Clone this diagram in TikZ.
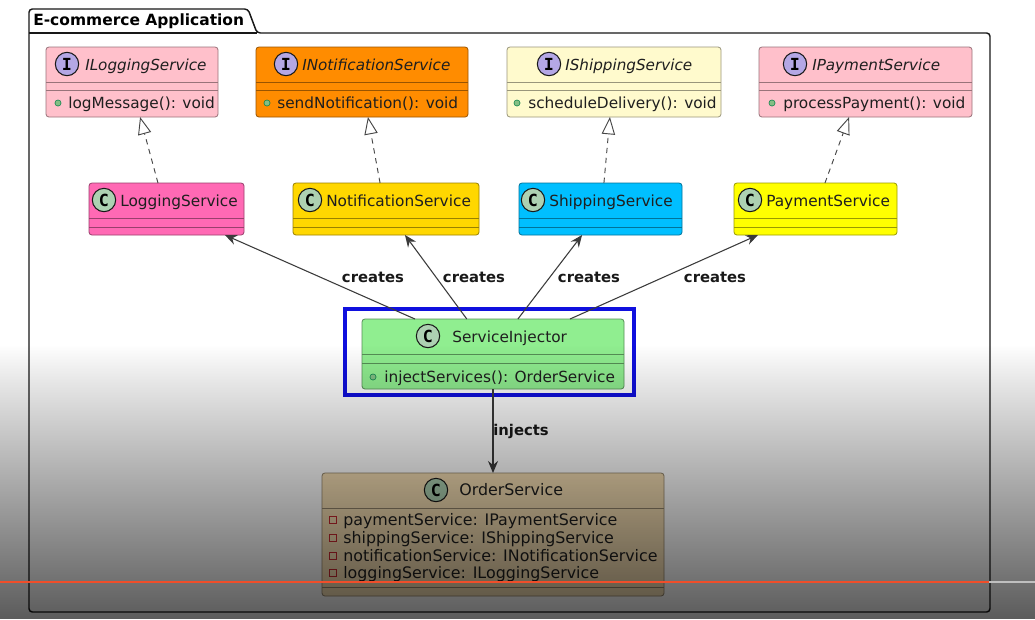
\documentclass[tikz,border=0pt]{standalone}
\usepackage{fontspec}
\setmainfont{DejaVu Sans}
\newfontfamily\iconfont{DejaVu Sans Mono}
\usetikzlibrary{arrows.meta,calc,fit}

\definecolor{inkc}{HTML}{181818}
\definecolor{ifacefill}{HTML}{B4A7E5}
\definecolor{classfill}{HTML}{ADD1B2}
\definecolor{pubfill}{HTML}{84BE84}
\definecolor{publine}{HTML}{038048}
\definecolor{privline}{HTML}{C82930}
\definecolor{cPink}{HTML}{FFC0CB}
\definecolor{cOrange}{HTML}{FF8C00}
\definecolor{cLemon}{HTML}{FFFACD}
\definecolor{cHotPink}{HTML}{FF69B4}
\definecolor{cGold}{HTML}{FFD700}
\definecolor{cSky}{HTML}{00BFFF}
\definecolor{cYellow}{HTML}{FFFF00}
\definecolor{cGreen}{HTML}{90EE90}
\definecolor{cWheat}{HTML}{F5DEB3}
\definecolor{hiblue}{RGB}{16,16,222}
\definecolor{barred}{HTML}{F04E2A}

% one UML box: name, corners, fill, two compartment lines
\newcommand\umlbox[8]{%
  \node[fit={(#2,#3) (#4,#5)}, inner sep=0pt, outer sep=0pt, rounded corners=2.2pt,
        draw=#6!60!black, fill=#6, line width=0.6pt] (#1) {};
  \draw[draw=#6!60!black, line width=0.6pt] (#2,#7) -- (#4,#7) (#2,#8) -- (#4,#8);
}

\begin{document}
\begin{tikzpicture}[x=0.75pt,y=-0.75pt,
  txt/.style={inner sep=0pt, anchor=base west, text=black!88,
              font=\fontsize{11.5}{13.5}\selectfont},
  ftxt/.style={txt, font=\fontsize{11.9}{13.5}\selectfont},
  ifname/.style={txt, font=\fontsize{11.4}{13.5}\selectfont\itshape},
  ico/.style={circle, draw=inkc, line width=0.8pt, minimum size=17.5pt, inner sep=0pt,
              text=black, font=\iconfont\bfseries\fontsize{12.5}{12.5}\selectfont},
  pub/.style={circle, fill=pubfill, draw=publine, line width=0.4pt, minimum size=4.6pt, inner sep=0pt},
  priv/.style={rectangle, draw=privline, line width=0.6pt, minimum size=5.2pt, inner sep=0pt},
  lbl/.style={inner sep=1pt, anchor=base, text=black!90,
              font=\fontsize{11.1}{13}\selectfont\bfseries},
  realize/.style={draw=inkc!80, line width=0.7pt, dash pattern=on 4pt off 3.5pt,
                  -{Triangle[length=13pt, width=10pt, fill=white, line width=0.7pt]}},
  creates/.style={draw=inkc!85, line width=0.8pt,
                  -{Stealth[length=9pt, width=7.5pt, inset=3pt]}},
  frameline/.style={draw=inkc, line width=1.1pt}
]
\useasboundingbox (0,0) rectangle (1035,619);
\fill[white] (0,0) rectangle (1035,619);

% package frame with its tab
\draw[frameline, rounded corners=2.5pt] (29,612) -- (29,9) -- (248,9) -- (257,33) -- (990,33) -- (990,612) -- cycle;
\draw[frameline] (29,33) -- (257,33);
\node[inner sep=0pt, anchor=base west, font=\fontsize{11.6}{13}\selectfont\bfseries] (pkg) at (33,25) {E-commerce Application};

% interfaces
\umlbox{ILog}{46}{47}{218}{117}{cPink}{82}{90}
\umlbox{INot}{256}{47}{468}{117}{cOrange}{82}{90}
\umlbox{IShip}{507}{47}{721}{117}{cLemon}{82}{90}
\umlbox{IPay}{759}{47}{972}{117}{cPink}{82}{90}

\node[ico, fill=ifacefill] (ILog-i) at (67,64) {I};
\node[ifname] (ILog-n) at (85,70) {ILoggingService};
\node[pub] (ILog-d) at (58,103) {};
\node[txt] (ILog-m) at (68,108) {logMessage(): void};

\node[ico, fill=ifacefill] (INot-i) at (286,64) {I};
\node[ifname] (INot-n) at (302,70) {INotificationService};
\node[pub] (INot-d) at (267,103) {};
\node[txt] (INot-m) at (277,108) {sendNotification(): void};

\node[ico, fill=ifacefill] (IShip-i) at (549,64) {I};
\node[ifname] (IShip-n) at (565,70) {IShippingService};
\node[pub] (IShip-d) at (517,103) {};
\node[txt] (IShip-m) at (528,108) {scheduleDelivery(): void};

\node[ico, fill=ifacefill] (IPay-i) at (795,64) {I};
\node[ifname] (IPay-n) at (812,70) {IPaymentService};
\node[pub] (IPay-d) at (772,103) {};
\node[txt] (IPay-m) at (783,108) {processPayment(): void};

% implementing classes
\umlbox{LogS}{89}{183}{244}{235}{cHotPink}{218}{227}
\umlbox{NotS}{293}{183}{479}{235}{cGold}{218}{227}
\umlbox{ShipS}{519}{183}{682}{235}{cSky}{218}{227}
\umlbox{PayS}{734}{183}{897}{235}{cYellow}{218}{227}

\node[ico, fill=classfill] (LogS-i) at (104,200) {C};
\node[txt] (LogS-n) at (120,206) {LoggingService};
\node[ico, fill=classfill] (NotS-i) at (310,200) {C};
\node[txt] (NotS-n) at (326,206) {NotificationService};
\node[ico, fill=classfill] (ShipS-i) at (533,200) {C};
\node[txt] (ShipS-n) at (549,206) {ShippingService};
\node[ico, fill=classfill] (PayS-i) at (750,200) {C};
\node[txt] (PayS-n) at (766,206) {PaymentService};

% injector, with its highlight frame
\umlbox{SI}{362}{319}{624}{389}{cGreen}{354}{363}
\node[fit={(345,309) (634,395)}, inner sep=0pt, draw=hiblue, line width=3pt] (SIhl) {};
\node[ico, fill=classfill] (SI-i) at (428,336) {C};
\node[txt] (SI-n) at (452,342) {ServiceInjector};
\node[pub] (SI-d) at (373,377) {};
\node[txt] (SI-m) at (384,382) {injectServices(): OrderService};

% order service
\umlbox{OS}{322}{473}{664}{596}{cWheat}{508}{587}
\node[ico, fill=classfill] (OS-i) at (436,490) {C};
\node[ftxt] (OS-n) at (459,495) {OrderService};
\node[priv] (OS-d1) at (333,520) {};
\node[ftxt] (OS-f1) at (343,525) {paymentService: IPaymentService};
\node[priv] (OS-d2) at (333,538) {};
\node[ftxt] (OS-f2) at (343,543) {shippingService: IShippingService};
\node[priv] (OS-d3) at (333,556) {};
\node[ftxt] (OS-f3) at (343,561) {notificationService: INotificationService};
\node[priv] (OS-d4) at (333,573) {};
\node[ftxt] (OS-f4) at (343,578) {loggingService: ILoggingService};

% realizations
\draw[realize] ($(LogS.north west)!0.445!(LogS.north east)$) -- ($(ILog.south west)!0.547!(ILog.south east)$);
\draw[realize] ($(NotS.north west)!0.468!(NotS.north east)$) -- ($(INot.south west)!0.528!(INot.south east)$);
\draw[realize] ($(ShipS.north west)!0.521!(ShipS.north east)$) -- ($(IShip.south west)!0.481!(IShip.south east)$);
\draw[realize] ($(PayS.north west)!0.558!(PayS.north east)$) -- ($(IPay.south west)!0.423!(IPay.south east)$);

% creates
\draw[creates] ($(SI.north west)!0.202!(SI.north east)$) -- ($(LogS.south west)!0.877!(LogS.south east)$);
\draw[creates] ($(SI.north west)!0.400!(SI.north east)$) -- ($(NotS.south west)!0.602!(NotS.south east)$);
\draw[creates] ($(SI.north west)!0.595!(SI.north east)$) -- ($(ShipS.south west)!0.387!(ShipS.south east)$);
\draw[creates] ($(SI.north west)!0.794!(SI.north east)$) -- ($(PayS.south west)!0.147!(PayS.south east)$);
\node[lbl] (c1) at (373,282) {creates};
\node[lbl] (c2) at (474,282) {creates};
\node[lbl] (c3) at (589,282) {creates};
\node[lbl] (c4) at (715,282) {creates};

% injects
\draw[creates] (SI.south) -- (OS.north);
\node[lbl] (inj) at (521,435) {injects};

% darkened lower band, one pixel row at a time
\foreach \yy in {345,...,618} {
  \pgfmathsetmacro\bandop{0.64*((\yy+0.5-345)/274)^0.95}
  \fill[black, opacity=\bandop] (0,\yy) rectangle (1035,\yy+1);
}
% progress bar
\draw[barred, line width=1.8pt] (0,582) -- (989,582);
\draw[white!75!black, line width=1.8pt] (989,582) -- (1035,582);
\end{tikzpicture}
\end{document}
